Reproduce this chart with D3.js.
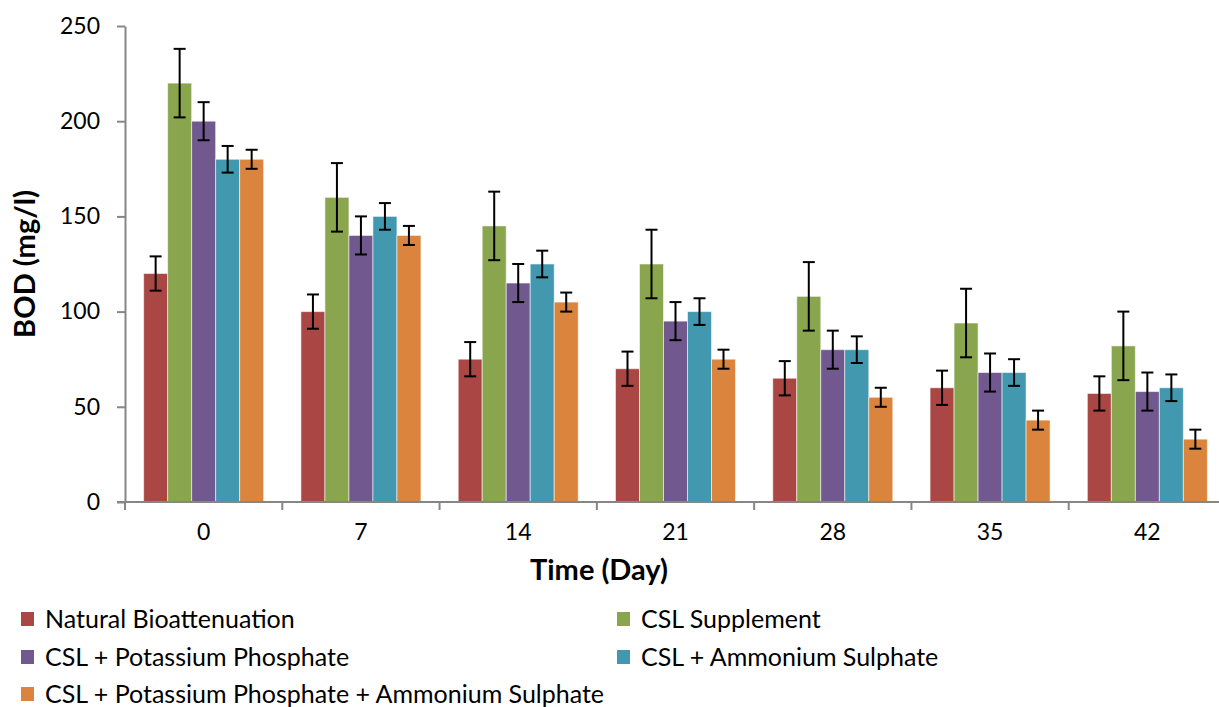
<!DOCTYPE html>
<html>
<head>
<meta charset="utf-8">
<script src="https://cdn.jsdelivr.net/npm/d3@7"></script>
<style>
  html, body { margin: 0; padding: 0; background: #fff; }
  svg { display: block; font-family: Lato, "Open Sans", sans-serif; }
</style>
</head>
<body>
<svg id="chart" width="1219" height="707"></svg>
<script>
const categories = ["0", "7", "14", "21", "28", "35", "42"];
const seriesNames = [
  "Natural Bioattenuation",
  "CSL Supplement",
  "CSL + Potassium Phosphate",
  "CSL + Ammonium Sulphate",
  "CSL + Potassium Phosphate + Ammonium Sulphate"
];
const naturalValues = [120, 100, 75, 70, 65, 60, 57];
const cslValues = [220, 160, 145, 125, 108, 94, 82];
const kpValues = [200, 140, 115, 95, 80, 68, 58];
const asValues = [180, 150, 125, 100, 80, 68, 60];
const kpasValues = [180, 140, 105, 75, 55, 43, 33];
const naturalErr = [9, 9, 9, 9, 9, 9, 9];
const cslErr = [18, 18, 18, 18, 18, 18, 18];
const kpErr = [10, 10, 10, 10, 10, 10, 10];
const asErr = [7, 7, 7, 7, 7, 7, 7];
const kpasErr = [5, 5, 5, 5, 5, 5, 5];
const yTicks = [0, 50, 100, 150, 200, 250];
const colors = ["#AA4643", "#89A54E", "#71588F", "#4198AF", "#DB843D"];

const seriesValues = [naturalValues, cslValues, kpValues, asValues, kpasValues];
const seriesErrs = [naturalErr, cslErr, kpErr, asErr, kpasErr];

const svg = d3.select("#chart");
const plotLeft = 125, plotRight = 1226, plotTop = 26, plotBottom = 502;

const padOuter = 0.1185;
const x0 = d3.scaleBand().domain(categories).range([plotLeft, plotRight])
  .paddingInner(padOuter * 2).paddingOuter(padOuter);
const x1 = d3.scaleBand().domain(d3.range(seriesNames.length)).range([0, x0.bandwidth()]).padding(0);
const y = d3.scaleLinear().domain([0, 250]).range([plotBottom, plotTop]);

// bars
const groups = svg.append("g").selectAll("g").data(categories).join("g")
  .attr("transform", d => `translate(${x0(d)},0)`);

groups.each(function(cat, ci) {
  const g = d3.select(this);
  seriesNames.forEach((s, si) => {
    const v = seriesValues[si][ci];
    g.append("rect")
      .attr("x", x1(si))
      .attr("y", y(v))
      .attr("width", x1.bandwidth())
      .attr("height", y(0) - y(v))
      .attr("fill", colors[si])
      .attr("stroke", "rgba(255,255,255,0.55)")
      .attr("stroke-width", 1);
  });
  seriesNames.forEach((s, si) => {
    const v = seriesValues[si][ci], e = seriesErrs[si][ci];
    const cx = x1(si) + x1.bandwidth() / 2;
    const eg = g.append("g").attr("stroke", "#000").attr("stroke-width", 2);
    eg.append("line").attr("x1", cx).attr("x2", cx).attr("y1", y(v + e)).attr("y2", y(v - e));
    eg.append("line").attr("x1", cx - 6).attr("x2", cx + 6).attr("y1", y(v + e)).attr("y2", y(v + e));
    eg.append("line").attr("x1", cx - 6).attr("x2", cx + 6).attr("y1", y(v - e)).attr("y2", y(v - e));
  });
});

// y axis
const yAxis = svg.append("g").attr("transform", `translate(${plotLeft},0)`)
  .call(d3.axisLeft(y).tickValues(yTicks).tickSizeInner(8).tickSizeOuter(0).tickPadding(17));
yAxis.select(".domain").attr("stroke", "#868686").attr("stroke-width", 2);
yAxis.selectAll(".tick line").attr("stroke", "#868686").attr("stroke-width", 2);
yAxis.selectAll(".tick text").attr("font-size", 23).attr("fill", "#000")
  .attr("font-family", "Lato, sans-serif");

// x axis
const xAxis = svg.append("g").attr("transform", `translate(0,${plotBottom})`)
  .call(d3.axisBottom(x0).tickSize(0).tickPadding(22));
xAxis.select(".domain").attr("stroke", "#868686").attr("stroke-width", 2)
  .attr("d", `M${plotLeft - 8},0H${plotRight}`);
xAxis.selectAll(".tick text").attr("font-size", 23).attr("fill", "#000")
  .attr("font-family", "Lato, sans-serif");
const step = x0.step();
const boundaries = d3.range(categories.length + 1).map(i => plotLeft + i * step);
xAxis.selectAll(".bnd").data(boundaries).join("line").attr("class", "bnd")
  .attr("x1", d => d).attr("x2", d => d).attr("y1", 0).attr("y2", 8)
  .attr("stroke", "#868686").attr("stroke-width", 2);

// axis titles
svg.append("text").attr("x", 599).attr("y", 580)
  .attr("text-anchor", "middle").attr("font-weight", "bold").attr("font-size", 29)
  .text("Time (Day)");
svg.append("text").attr("transform", `translate(35,${(plotTop + plotBottom) / 2}) rotate(-90)`)
  .attr("text-anchor", "middle").attr("font-weight", "bold").attr("font-size", 29)
  .text("BOD (mg/l)");

// legend
const legendPos = [
  [21, 619], [617, 619], [21, 657], [617, 657], [21, 694]
];
seriesNames.forEach((s, i) => {
  const [lx, ly] = legendPos[i];
  svg.append("rect").attr("x", lx).attr("y", ly - 7).attr("width", 13).attr("height", 14)
    .attr("fill", colors[i]);
  svg.append("text").attr("x", lx + 24).attr("y", ly).attr("dy", "0.36em")
    .attr("font-size", 25).attr("fill", "#000").text(s);
});
</script>
</body>
</html>
